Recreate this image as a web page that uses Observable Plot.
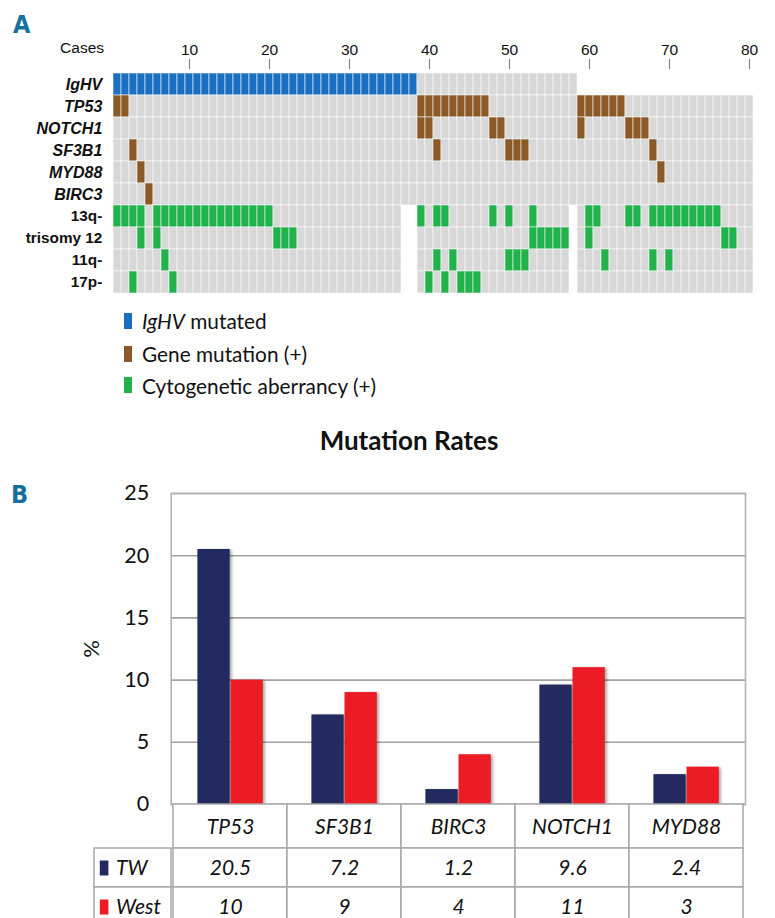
<!DOCTYPE html>
<html>
<head>
<meta charset="utf-8">
<script src="https://cdn.jsdelivr.net/npm/d3@7"></script>
<script src="https://cdn.jsdelivr.net/npm/@observablehq/plot@0.6"></script>
<style>
html,body{margin:0;padding:0;background:#fff;}
#page{position:relative;width:775px;height:918px;overflow:hidden;background:#fff;}
.abs{position:absolute;white-space:nowrap;}
.letter{font-family:"DejaVu Sans Condensed","DejaVu Sans",sans-serif;font-weight:bold;font-size:25px;line-height:25px;color:#15709c;}
.arial{font-family:"Liberation Sans",Arial,sans-serif;color:#111;}
.lato{font-family:Lato,"Open Sans",sans-serif;color:#111;}
.bars [aria-label="bar"]{filter:drop-shadow(2px 1px 1.5px rgba(0,0,0,0.35));}
</style>
</head>
<body>
<div id="page"></div>
<script>
// ---------------- Panel A data ----------------
const caseNumbers = d3.range(1, 81);               // case categories 1..80
const caseTicks = [10, 20, 30, 40, 50, 60, 70, 80];
const geneRows = ["IgHV", "TP53", "NOTCH1", "SF3B1", "MYD88", "BIRC3"];
const cytoRows = ["13q-", "trisomy 12", "11q-", "17p-"];
const statusLabels = ["IgHV mutated", "Gene mutation (+)", "Cytogenetic aberrancy (+)", "negative"];
const statusColors = ["#1b6fc1", "#8b5a26", "#22b24c", "#d8d8d8"];

// tested case runs [first, last]
const testedIgHV = [[1, 58]];
const testedGenes = [[1, 80]];
const testedCyto = [[1, 36], [39, 57], [59, 80]];

// positive case runs [first, last]
const posIgHV = [[1, 38]];
const posTP53 = [[1, 2], [39, 47], [59, 64]];
const posNOTCH1 = [[39, 40], [48, 49], [59, 59], [65, 67]];
const posSF3B1 = [[3, 3], [41, 41], [50, 52], [68, 68]];
const posMYD88 = [[4, 4], [69, 69]];
const posBIRC3 = [[5, 5]];
const pos13q = [[1, 4], [6, 20], [39, 39], [41, 42], [48, 48], [50, 50], [53, 53], [60, 61], [65, 66], [68, 76]];
const posTri12 = [[4, 4], [6, 6], [21, 23], [53, 57], [60, 60], [77, 78]];
const pos11q = [[7, 7], [41, 41], [43, 43], [50, 52], [62, 62], [68, 68], [70, 70]];
const pos17p = [[3, 3], [8, 8], [40, 40], [42, 42], [44, 46]];

// ---------------- Panel B data ----------------
const genes = ["TP53", "SF3B1", "BIRC3", "NOTCH1", "MYD88"];
const twRates = [20.5, 7.2, 1.2, 9.6, 2.4];
const westRates = [10, 9, 4, 11, 3];
const seriesNames = ["TW", "West"];
const seriesColors = ["#222a5f", "#ec1c24"];
const yTicks = [0, 5, 10, 15, 20, 25];

// ---------------- build tables ----------------
const expand = runs => runs.flatMap(([a, b]) => d3.range(a, b + 1));
const rowSpecs = [
  {row: "IgHV", tested: testedIgHV, pos: posIgHV, kind: statusLabels[0]},
  {row: "TP53", tested: testedGenes, pos: posTP53, kind: statusLabels[1]},
  {row: "NOTCH1", tested: testedGenes, pos: posNOTCH1, kind: statusLabels[1]},
  {row: "SF3B1", tested: testedGenes, pos: posSF3B1, kind: statusLabels[1]},
  {row: "MYD88", tested: testedGenes, pos: posMYD88, kind: statusLabels[1]},
  {row: "BIRC3", tested: testedGenes, pos: posBIRC3, kind: statusLabels[1]},
  {row: "13q-", tested: testedCyto, pos: pos13q, kind: statusLabels[2]},
  {row: "trisomy 12", tested: testedCyto, pos: posTri12, kind: statusLabels[2]},
  {row: "11q-", tested: testedCyto, pos: pos11q, kind: statusLabels[2]},
  {row: "17p-", tested: testedCyto, pos: pos17p, kind: statusLabels[2]}
];
const cellData = rowSpecs.flatMap(s => {
  const p = new Set(expand(s.pos));
  return expand(s.tested).map(c => ({case: c, row: s.row, status: p.has(c) ? s.kind : "negative"}));
});
const rates = genes.map((g, i) => ({gene: g, TW: twRates[i], West: westRates[i]}));
const tableData = seriesNames.flatMap(s => rates.map(r => ({gene: r.gene, series: s, value: r[s]})));

const page = document.getElementById("page");
function put(el, left, top) {
  el.style.position = "absolute"; el.style.left = left + "px"; el.style.top = top + "px";
  page.appendChild(el); return el;
}
function html(str) { const d = document.createElement("div"); d.innerHTML = str; return d.firstElementChild; }

// ---------------- Panel A ----------------
put(html('<div class="abs letter">A</div>'), 13, 12);
const casesLbl = html('<div class="abs arial" style="font-size:15.5px;line-height:15px;">Cases</div>');
page.appendChild(casesLbl); casesLbl.style.right = (775 - 104) + "px"; casesLbl.style.top = "39.5px";

const heat = Plot.plot({
  width: 775, height: 300,
  marginLeft: 107.3, marginRight: 15.7, marginTop: 68, marginBottom: 3,
  style: {fontFamily: '"Liberation Sans", Arial, sans-serif', color: "#111", background: "transparent"},
  x: {type: "band", domain: caseNumbers, padding: 0},
  y: {type: "band", domain: [...geneRows, ...cytoRows], padding: 0},
  color: {domain: statusLabels, range: statusColors},
  marks: [
    Plot.cell(cellData, {x: "case", y: "row", fill: "status", stroke: "white", strokeOpacity: 0.55, strokeWidth: 1}),
    Plot.axisX({anchor: "top", ticks: caseTicks, tickSize: 10, tickPadding: 4, fontSize: 15.5, label: null, stroke: "#777"}),
    Plot.axisY({ticks: geneRows, tickSize: 0, tickPadding: 5.5, fontSize: 16, fontWeight: "bold", fontStyle: "italic", label: null}),
    Plot.axisY({ticks: cytoRows, tickSize: 0, tickPadding: 5.5, fontSize: 15.3, fontWeight: "bold", label: null})
  ]
});
put(heat, 0, 0);

// legend (built from the same status arrays)
const legendTops = [312.7, 345.8, 377.2];
statusLabels.slice(0, 3).forEach((lab, i) => {
  const m = document.createElement("div");
  m.style.width = "7.5px"; m.style.height = "16px"; m.style.background = statusColors[i];
  put(m, 124.2, legendTops[i]);
  const t = html('<div class="abs lato" style="font-size:20.8px;line-height:20px;"></div>');
  t.innerHTML = i === 0 ? lab.replace("IgHV", "<i>IgHV</i>") : lab;
  put(t, 142, legendTops[i] - 1.5);
});

// ---------------- Panel B ----------------
put(html('<div class="abs letter">B</div>'), 11, 482);
const title = html('<div class="abs lato" style="font-size:26px;line-height:26px;font-weight:bold;transform:translateX(-50%);">Mutation Rates</div>');
put(title, 409, 427);
const pct = html('<div class="abs lato" style="font-size:22px;line-height:22px;transform:translate(-50%,-50%) rotate(-90deg);">%</div>');
put(pct, 91, 649);

const bars = Plot.plot({
  className: "bars",
  width: 775, height: 341,
  marginLeft: 170.7, marginRight: 30, marginTop: 15, marginBottom: 15,
  style: {fontFamily: 'Lato, "Open Sans", sans-serif', color: "#111", background: "transparent"},
  x: {type: "band", domain: genes, padding: 0, axis: null},
  y: {domain: [0, 25]},
  marks: [
    Plot.gridY(yTicks, {stroke: "#a2a2a2", strokeOpacity: 1, strokeWidth: 1.6}),
    Plot.frame({stroke: "#b2b2b2", strokeWidth: 1.6}),
    Plot.barY(rates, {x: "gene", y: "TW", fill: seriesColors[0], insetLeft: 24.4, insetRight: 57.3}),
    Plot.barY(rates, {x: "gene", y: "West", fill: seriesColors[1], insetLeft: 57.5, insetRight: 24.2}),
    Plot.axisY({ticks: yTicks, tickSize: 0, tickPadding: 22, fontSize: 21.5, label: null})
  ]
});
put(bars, 0, 478);

// table header row: gene names
const head = Plot.plot({
  width: 775, height: 46,
  marginLeft: 170.7, marginRight: 30, marginTop: 1, marginBottom: 1,
  style: {fontFamily: 'Lato, "Open Sans", sans-serif', color: "#111", background: "transparent"},
  x: {type: "band", domain: genes, padding: 0, axis: null},
  marks: [
    Plot.cell(genes, {x: d => d, fill: "white", stroke: "#a8a8a8", strokeWidth: 1.5}),
    Plot.text(genes, {x: d => d, frameAnchor: "middle", fontSize: 21, fontStyle: "italic", dy: 1})
  ]
});
put(head, 0, 803);

// table value rows
const vals = Plot.plot({
  width: 775, height: 80,
  marginLeft: 170.7, marginRight: 30, marginTop: 1, marginBottom: 1,
  style: {fontFamily: 'Lato, "Open Sans", sans-serif', color: "#111", background: "transparent"},
  x: {type: "band", domain: genes, padding: 0, axis: null},
  y: {type: "band", domain: seriesNames, padding: 0, axis: null},
  marks: [
    Plot.cell(tableData, {x: "gene", y: "series", fill: "white", stroke: "#a8a8a8", strokeWidth: 1.5}),
    Plot.text(tableData, {x: "gene", y: "series", text: d => String(d.value), fontSize: 21, fontStyle: "italic"})
  ]
});
put(vals, 0, 847);

// table row-label column (series legend)
const rectSymbol = {draw(ctx) { ctx.rect(-4.3, -7.5, 8.6, 15); }};
const rowLab = Plot.plot({
  width: 79, height: 80,
  marginLeft: 1, marginRight: 1, marginTop: 1, marginBottom: 1,
  style: {fontFamily: 'Lato, "Open Sans", sans-serif', color: "#111", background: "transparent"},
  y: {type: "band", domain: seriesNames, padding: 0, axis: null},
  marks: [
    Plot.cell(seriesNames, {y: d => d, fill: "white", stroke: "#a8a8a8", strokeWidth: 1.5}),
    Plot.dot(seriesNames, {y: d => d, frameAnchor: "left", dx: 9.6, symbol: rectSymbol, fill: (d, i) => seriesColors[i], stroke: null}),
    Plot.text(seriesNames, {y: d => d, frameAnchor: "left", dx: 21.5, textAnchor: "start", fontSize: 21, fontStyle: "italic"})
  ]
});
put(rowLab, 93, 847);
</script>
</body>
</html>
